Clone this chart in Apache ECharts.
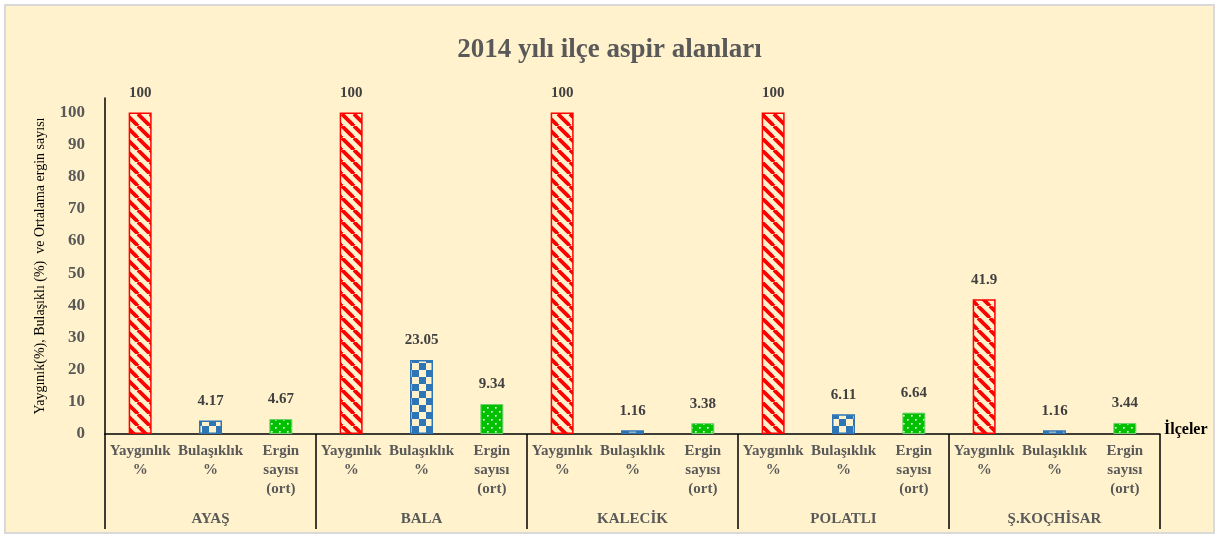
<!DOCTYPE html>
<html>
<head>
<meta charset="utf-8" />
<title>2014 yılı ilçe aspir alanları</title>
<script type="text/javascript" src="https://cdn.jsdelivr.net/npm/echarts@6/dist/echarts.min.js"></script>
<style>
	html, body { margin: 0; padding: 0; background: #fff; }
	#box { position: absolute; left: 4px; top: 4px; width: 1207px; height: 526px; border: 2px solid #d9d9d9; background: #fff2cc; }
	#chart { width: 1207px; height: 526px; }
</style>
</head>
<body>
<div id="box"><div id="chart"></div></div>
<script type="text/javascript">
	// ilçeler ve ölçütler
	var districts = ['AYAŞ', 'BALA', 'KALECİK', 'POLATLI', 'Ş.KOÇHİSAR'];
	var metrics = ['Yaygınlık\n%', 'Bulaşıklık\n%', 'Ergin\nsayısı\n(ort)'];
	var yayginlik = [100, 100, 100, 100, 41.9];
	var bulasiklik = [4.17, 23.05, 1.16, 6.11, 1.16];
	var ergin = [4.67, 9.34, 3.38, 6.64, 3.44];

	function pattern(w, h, draw) {
		var c = document.createElement('canvas');
		c.width = w; c.height = h;
		draw(c.getContext('2d'));
		return { image: c, repeat: 'repeat' };
	}
	var redFill = pattern(12, 12, function (g) {
		g.fillStyle = '#fff2cc'; g.fillRect(0, 0, 12, 12);
		g.strokeStyle = '#ff0000'; g.lineWidth = 3.8;
		[-12, 0, 12].forEach(function (o) {
			g.beginPath(); g.moveTo(o, 0); g.lineTo(o + 12, 12); g.stroke();
		});
	});
	var blueFill = pattern(14, 14, function (g) {
		g.fillStyle = '#fff2cc'; g.fillRect(0, 0, 14, 14);
		g.fillStyle = '#2e75b6';
		g.fillRect(0, 0, 7, 7); g.fillRect(7, 7, 7, 7);
	});
	var greenFill = pattern(8, 8, function (g) {
		g.fillStyle = '#00c000'; g.fillRect(0, 0, 8, 8);
		g.fillStyle = '#ffffff';
		g.fillRect(1, 1, 1.6, 1.6); g.fillRect(5, 5, 1.6, 1.6);
	});

	var cats = [];
	var d1 = [], d2 = [], d3 = [];
	for (var i = 0; i < districts.length; i++) {
		cats.push(metrics[0], metrics[1], metrics[2]);
		d1.push(yayginlik[i], '-', '-');
		d2.push('-', bulasiklik[i], '-');
		d3.push('-', '-', ergin[i]);
	}

	var lbl = {
		show: true, position: 'top', distance: 12,
		fontFamily: 'Liberation Serif', fontWeight: 'bold', fontSize: 15, color: '#404040'
	};

	var option = {
		animation: false,
		title: {
			text: '2014 yılı ilçe aspir alanları',
			left: 'center', top: 26,
			textStyle: { fontFamily: 'Liberation Serif', fontWeight: 'bold', fontSize: 27, color: '#595959' }
		},
		grid: { left: 99, right: 53, top: 92, bottom: 98 },
		xAxis: [{
			type: 'category',
			data: cats,
			name: 'İlçeler',
			nameLocation: 'end',
			nameGap: 4,
			nameTextStyle: { fontFamily: 'Liberation Serif', fontWeight: 'bold', fontSize: 16, color: '#000', verticalAlign: 'bottom', padding: [0, 0, -4, 0] },
			axisLine: { lineStyle: { color: '#000', width: 1.5 } },
			axisTick: { show: false },
			axisLabel: {
				interval: 0, margin: 8, lineHeight: 19,
				fontFamily: 'Liberation Serif', fontWeight: 'bold', fontSize: 15, color: '#595959'
			}
		}, {
			type: 'category',
			position: 'bottom',
			data: districts,
			axisLine: { show: false },
			axisTick: { show: true, length: 95, lineStyle: { color: '#000', width: 1.5 } },
			axisLabel: {
				margin: 78,
				fontFamily: 'Liberation Serif', fontWeight: 'bold', fontSize: 15, color: '#595959'
			}
		}],
		yAxis: {
			type: 'value',
			min: 0, max: 104.5, interval: 10,
			name: 'Yaygınık(%), Bulaşıklı (%)  ve Ortalama ergin sayısı',
			nameLocation: 'middle',
			nameGap: 58,
			nameTextStyle: { fontFamily: 'Liberation Sans Narrow', fontSize: 14, color: '#000' },
			axisLine: { show: true, lineStyle: { color: '#000', width: 1.5 } },
			axisTick: { show: false },
			splitLine: { show: false },
			axisLabel: {
				showMaxLabel: false, margin: 20,
				fontFamily: 'Liberation Serif', fontWeight: 'bold', fontSize: 17, color: '#595959'
			}
		},
		series: [{
			name: 'Yaygınlık %', type: 'bar', data: d1, barWidth: 23, barGap: '-100%',
			itemStyle: { color: redFill, borderColor: '#ff0000', borderWidth: 1.5 },
			label: lbl
		}, {
			name: 'Bulaşıklık %', type: 'bar', data: d2, barWidth: 23, barGap: '-100%',
			itemStyle: { color: blueFill, borderColor: '#2e75b6', borderWidth: 1.5 },
			label: lbl
		}, {
			name: 'Ergin sayısı (ort)', type: 'bar', data: d3, barWidth: 23, barGap: '-100%',
			itemStyle: { color: greenFill, borderColor: '#70d070', borderWidth: 1 },
			label: lbl
		}]
	};

	var myChart = echarts.init(document.getElementById('chart'));
	myChart.setOption(option);
</script>
</body>
</html>
